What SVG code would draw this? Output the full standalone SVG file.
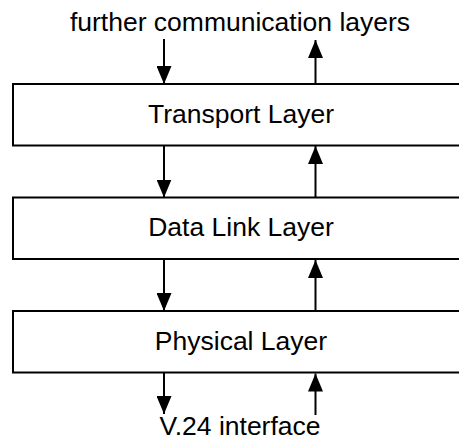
<svg xmlns="http://www.w3.org/2000/svg" width="459" height="441" viewBox="0 0 459 441">
<style>
.box{fill:#fff;stroke:#000;stroke-width:2}
.lbl{font-family:"Liberation Sans",Arial,sans-serif;font-size:26.5px;fill:#000;text-anchor:middle}
.con{stroke:#000;stroke-width:2;fill:none}
</style>
<defs>
<marker id="ah" viewBox="0 0 18 15" refX="18" refY="7.5" markerWidth="18" markerHeight="15" markerUnits="userSpaceOnUse" orient="auto">
<path d="M0,0 L18,7.5 L0,15 Z" fill="#000"/>
</marker>
</defs>
<rect width="459" height="441" fill="#fff"/>
<text class="lbl" x="240" y="31">further communication layers</text>
<text class="lbl" x="240" y="435">V.24 interface</text>
<g id="transport">
<rect class="box" x="13" y="84" width="460" height="61.5"/>
<text class="lbl" x="241" y="123">Transport Layer</text>
</g>
<g id="datalink">
<rect class="box" x="13" y="197.5" width="460" height="61.5"/>
<text class="lbl" x="241" y="236">Data Link Layer</text>
</g>
<g id="physical">
<rect class="box" x="13" y="311" width="460" height="61.5"/>
<text class="lbl" x="241" y="349.5">Physical Layer</text>
</g>
<g id="connectors">
<line class="con" x1="164" y1="39" x2="164" y2="84" marker-end="url(#ah)"/>
<line class="con" x1="315.5" y1="84" x2="315.5" y2="40" marker-end="url(#ah)"/>
<line class="con" x1="164" y1="145.5" x2="164" y2="197.5" marker-end="url(#ah)"/>
<line class="con" x1="315.5" y1="197.5" x2="315.5" y2="146" marker-end="url(#ah)"/>
<line class="con" x1="164" y1="259" x2="164" y2="311" marker-end="url(#ah)"/>
<line class="con" x1="315.5" y1="311" x2="315.5" y2="260" marker-end="url(#ah)"/>
<line class="con" x1="164" y1="372.5" x2="164" y2="414" marker-end="url(#ah)"/>
<line class="con" x1="315.5" y1="415" x2="315.5" y2="373.5" marker-end="url(#ah)"/>
</g>
</svg>
